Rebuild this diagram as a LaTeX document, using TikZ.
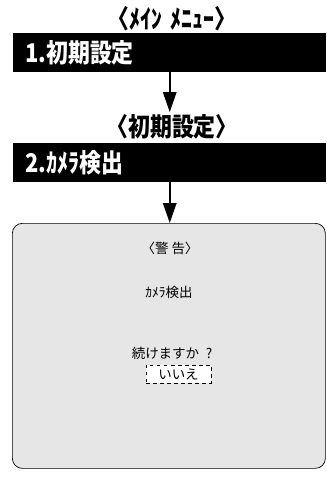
\documentclass[tikz,border=0pt]{standalone}
\usepackage{fontspec}
\usepackage{graphicx}
\usepackage{tikz}
\usetikzlibrary{arrows.meta}
\newfontfamily\jpfont{Noto Sans CJK JP}
\newcommand{\narrowtext}[1]{\scalebox{0.85}[1]{#1}}
\definecolor{panelgray}{HTML}{E6E6E6}
\tikzset{
  menutitle/.style={font=\jpfont\bfseries\fontsize{22}{22}\selectfont, inner sep=0pt},
  menubar/.style={fill=black, text=white, anchor=north west, minimum height=1.17cm,
    text width=8.67cm, inner xsep=0.36cm, align=left,
    font=\jpfont\bfseries\fontsize{22}{22}\selectfont},
  downarrow/.style={line width=1.7pt, -{Triangle[width=0.4cm,length=0.6cm]}},
  panelbox/.style={draw, fill=panelgray, line width=0.6pt, rounded corners=0.3cm,
    anchor=north west, minimum width=9.39cm, minimum height=7.35cm},
  paneltext/.style={font=\jpfont\fontsize{11.5}{12}\selectfont, inner sep=0pt},
  answerbox/.style={draw, dashed, fill=white, inner sep=0pt,
    minimum width=1.95cm, minimum height=0.54cm},
}

\begin{document}
\begin{tikzpicture}[x=0.03cm,y=-0.03cm]
\useasboundingbox (0,0) rectangle (326,477);
% menu chain
\node[menutitle] (title1) at (172,19)
  {\narrowtext{〈ﾒｲﾝ\hspace{0.3cm}ﾒﾆｭｰ〉}};
\node[menubar] (menu1) at (13,33) {\narrowtext{1.初期設定}};
\node[menutitle] (title2) at (172,127) {\narrowtext{〈初期設定〉}};
\node[menubar] (menu2) at (13,143) {\narrowtext{2.ｶﾒﾗ検出}};
\node[panelbox] (warnbox) at (12,223) {};

% warning screen
\node[paneltext] (warnhead) at (170,248) {〈警\ 告〉};
\node[paneltext] (camtext) at (169,292) {ｶﾒﾗ検出};
\node[paneltext] (asktext) at (172,353) {続けますか\hspace{0.2cm}?};
\node[paneltext, answerbox] (nobtn) at (178.5,374) {いいえ};

\draw[downarrow] (menu1.south) -- ([yshift=2pt]menu1.south |- title2.north);
\draw[downarrow] (menu2.south) -- (menu2.south |- warnbox.north);
\end{tikzpicture}
\end{document}
